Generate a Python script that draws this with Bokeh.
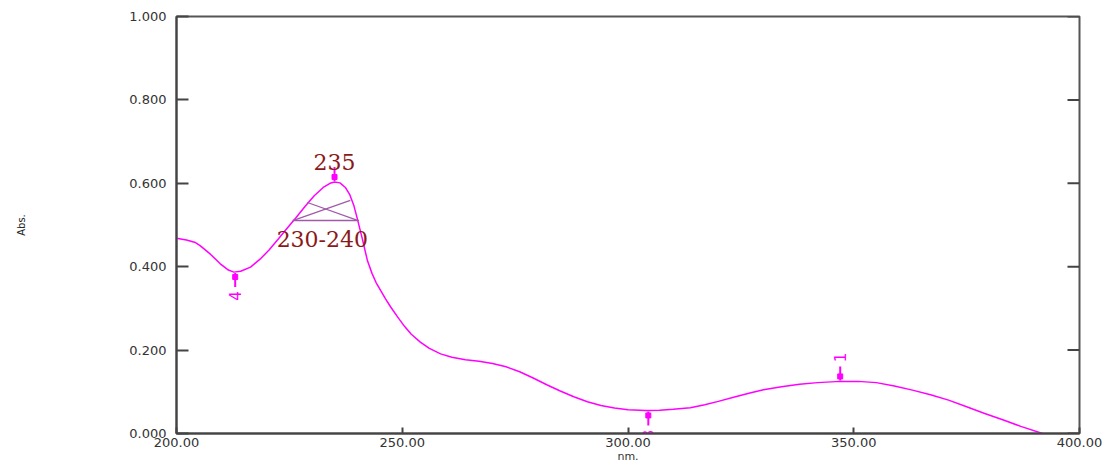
from bokeh.plotting import figure
from bokeh.models import LinearAxis, Range1d, FixedTicker
from bokeh.embed import file_html
from bokeh.resources import INLINE
from bokeh.core.properties import value
import numpy as np

# ---- data ----
wavelength = [200.0, 202.2, 204.2, 205.3, 207.5, 209.7, 211.5, 212.7, 214.2, 216.4,
              218.5, 220.5, 222.5, 224.5, 226.5, 228.5, 230.5, 232.5, 234.0, 235.0,
              236.2, 237.4, 238.4, 239.3, 240.1, 241.2, 242.3, 243.3, 244.2, 245.2,
              246.3, 247.4, 249.0, 250.5, 252.0, 254.0, 256.0, 258.5, 261.0, 264.0,
              267.0, 270.0, 273.0, 276.0, 279.0, 282.0, 285.0, 288.0, 291.0, 294.0,
              297.0, 300.0, 303.9, 307.0, 310.0, 313.8, 317.0, 320.0, 323.8, 327.0,
              330.0, 334.0, 338.0, 342.0, 347.0, 351.0, 355.0, 359.0, 363.0, 367.0,
              371.0, 375.0, 379.0, 383.0, 387.0, 391.8]
absorbance = [0.468, 0.464, 0.458, 0.450, 0.430, 0.407, 0.392, 0.387, 0.389, 0.399,
              0.418, 0.440, 0.466, 0.492, 0.518, 0.545, 0.570, 0.590, 0.600, 0.603,
              0.601, 0.590, 0.572, 0.546, 0.513, 0.465, 0.414, 0.384, 0.362, 0.343,
              0.323, 0.304, 0.279, 0.257, 0.238, 0.219, 0.204, 0.191, 0.183, 0.177,
              0.173, 0.168, 0.160, 0.148, 0.133, 0.117, 0.102, 0.088, 0.076, 0.067,
              0.061, 0.057, 0.055, 0.056, 0.058, 0.062, 0.069, 0.077, 0.088, 0.097,
              0.105, 0.112, 0.118, 0.122, 0.125, 0.125, 0.122, 0.114, 0.104, 0.093,
              0.080, 0.064, 0.048, 0.033, 0.017, 0.000]

# peak / valley picks
pick_x = [235.0, 213.0, 304.5, 347.0]
pick_labels = ["235", "4", "3", "1"]
pick_dir = [1, -1, -1, 1]          # 1: arrow from above, -1: arrow from below

# 230-240 area marks
area_h_x = [225.7, 240.4]
area_h_y = [0.511, 0.511]
area_a_x = [225.9, 238.5]
area_a_y = [0.511, 0.559]
area_b_x = [229.0, 240.1]
area_b_y = [0.554, 0.511]
area_label = "230-240"
area_label_x = 232.3
area_label_y = 0.511

x_ticks = [200, 250, 300, 350, 400]
y_ticks = [0.0, 0.2, 0.4, 0.6, 0.8, 1.0]

X0, X1 = 200, 400

# ---- figure ----
p = figure(width=1113, height=465, output_backend="svg", toolbar_location=None,
           x_range=Range1d(X0, X1), y_range=Range1d(0, 1.0),
           min_border_left=176, min_border_right=34, min_border_top=16,
           min_border_bottom=32, background_fill_color="white",
           border_fill_color="white", x_axis_type=None, y_axis_type=None)
p.grid.visible = False
p.outline_line_color = "#555555"
p.outline_line_width = 2

AX = "#444444"
TICKFONT = "DejaVu Sans"

xaxis = LinearAxis(ticker=FixedTicker(ticks=x_ticks))
xaxis.major_label_overrides = {t: "%.2f" % t for t in x_ticks}
xaxis.axis_line_color = AX
xaxis.axis_line_width = 2
xaxis.major_tick_in = 6
xaxis.major_tick_out = 0
xaxis.major_tick_line_color = AX
xaxis.major_tick_line_width = 2
xaxis.minor_tick_line_color = None
xaxis.major_label_text_font = TICKFONT
xaxis.major_label_text_font_size = "13px"
xaxis.major_label_text_color = "#333333"
xaxis.major_label_standoff = 4
xaxis.axis_label = "nm."
xaxis.axis_label_text_font = "DejaVu Sans"
xaxis.axis_label_text_font_size = "11px"
xaxis.axis_label_text_font_style = "normal"
xaxis.axis_label_text_color = "#333333"
xaxis.axis_label_standoff = 0
p.add_layout(xaxis, "below")

yaxis = LinearAxis(ticker=FixedTicker(ticks=y_ticks))
yaxis.major_label_overrides = {t: "%.3f" % t for t in y_ticks}
yaxis.axis_line_color = AX
yaxis.axis_line_width = 2
yaxis.major_tick_in = 12
yaxis.major_tick_out = 0
yaxis.major_tick_line_color = AX
yaxis.major_tick_line_width = 2
yaxis.minor_tick_line_color = None
yaxis.major_label_text_font = TICKFONT
yaxis.major_label_text_font_size = "13px"
yaxis.major_label_text_color = "#333333"
yaxis.major_label_standoff = 10
yaxis.axis_label = "Abs."
yaxis.axis_label_text_font = "DejaVu Sans"
yaxis.axis_label_text_font_size = "10px"
yaxis.axis_label_text_font_style = "normal"
yaxis.axis_label_text_color = "#222222"
yaxis.axis_label_standoff = 99
p.add_layout(yaxis, "left")

# right-hand inward ticks (no labels), from the same tick list
px_x = (X1 - X0) / 903.0
p.segment(x0=[X1] * len(y_ticks), y0=y_ticks, x1=[X1 - 12 * px_x] * len(y_ticks),
          y1=y_ticks, line_color=AX, line_width=2)

# spectrum
p.line(wavelength, absorbance, line_color="#ff00ff", line_width=1.5)

# area marks
AREA = "#a05aa8"
p.line(area_h_x, area_h_y, line_color=AREA, line_width=1.5)
p.line(area_a_x, area_a_y, line_color=AREA, line_width=1.2)
p.line(area_b_x, area_b_y, line_color=AREA, line_width=1.2)

# pick arrows
px_y = 1.0 / 417.0
cy = np.interp(pick_x, wavelength, absorbance)
d = np.array(pick_dir, dtype=float)
y0 = cy + d * 1 * px_y
y1 = cy + d * 15 * px_y
ysq = cy + d * 5 * px_y
p.segment(x0=pick_x, y0=y0, x1=pick_x, y1=y1, line_color="#ff00ff", line_width=2)
p.scatter(x=pick_x, y=ysq, marker="square", size=5, fill_color="#ff00ff",
          line_color="#ff00ff")

# main peak label (serif, dark red)
p.text(x=[pick_x[0]], y=[cy[0]], text=[pick_labels[0]], text_align="center",
       text_baseline="bottom", y_offset=-12, text_font=value("DejaVu Serif"),
       text_font_size="22px", text_color="#8a1a1a")

# small rotated pick numbers
ylab = cy + d * 24 * px_y
p.text(x=pick_x[1:], y=ylab[1:], text=pick_labels[1:], text_align="center",
       text_baseline="middle", angle=np.pi / 2, text_font=value("DejaVu Sans"),
       text_font_size="15px", text_color="#ff00ff")

# area label
p.text(x=[area_label_x], y=[area_label_y], text=[area_label], text_align="center",
       text_baseline="top", y_offset=11, text_font=value("DejaVu Serif"),
       text_font_size="22px", text_color="#8a1a1a")

open("out.html", "w").write(file_html(p, INLINE))
